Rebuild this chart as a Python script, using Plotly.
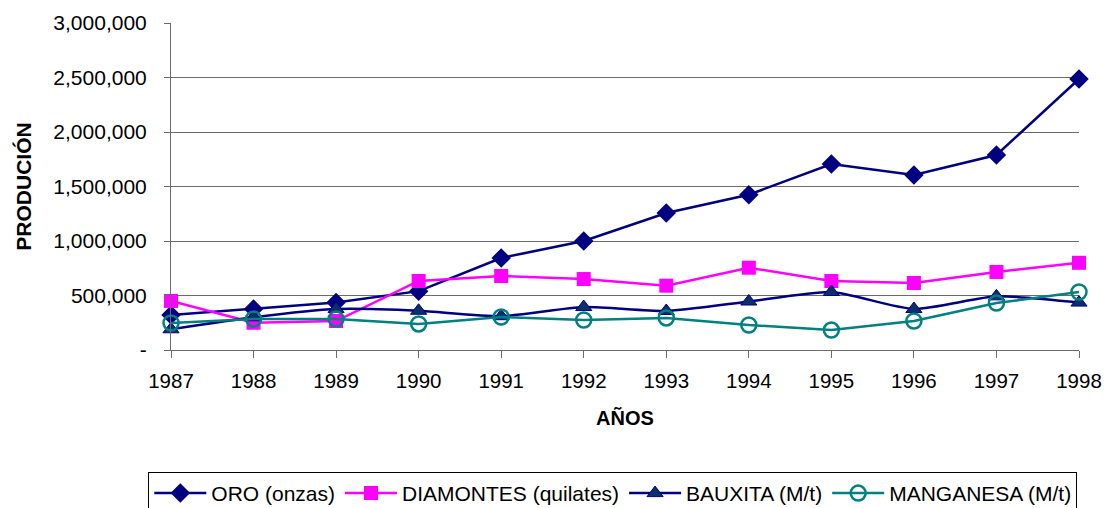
import plotly.graph_objects as go

years = [1987, 1988, 1989, 1990, 1991, 1992, 1993, 1994, 1995, 1996, 1997, 1998]
oro = [321000, 376000, 435000, 540000, 844000, 1000000, 1257000, 1425000, 1706000, 1605000, 1789000, 2486000]
diamontes = [450000, 250000, 266000, 633000, 679000, 651000, 590000, 755000, 633000, 615000, 716000, 800000]
bauxita = [190000, 300000, 376000, 360000, 310000, 394000, 358000, 445000, 532000, 376000, 492000, 435000]
manganesa = [248000, 284000, 284000, 239000, 303000, 275000, 294000, 229000, 183000, 266000, 431000, 532000]

ytick_vals = [0, 500000, 1000000, 1500000, 2000000, 2500000, 3000000]
ytick_text = ["-", "500,000", "1,000,000", "1,500,000", "2,000,000", "2,500,000", "3,000,000"]
grid_vals = [500000, 1000000, 1500000, 2000000, 2500000]

FONT = "Liberation Sans, Arial, sans-serif"
NAVY = "#000080"

fig = go.Figure()
fig.add_trace(go.Scatter(
    x=years, y=oro, name="ORO (onzas)", mode="lines+markers",
    line=dict(color=NAVY, width=2.5),
    marker=dict(symbol="diamond", size=15, color=NAVY),
    cliponaxis=False))
fig.add_trace(go.Scatter(
    x=years, y=diamontes, name="DIAMONTES (quilates)", mode="lines+markers",
    line=dict(color="#FF00FF", width=2.5),
    marker=dict(symbol="square", size=14, color="#FF00FF"),
    cliponaxis=False))
fig.add_trace(go.Scatter(
    x=years, y=bauxita, name="BAUXITA (M/t)", mode="lines+markers",
    line=dict(color=NAVY, width=2.5, shape="spline", smoothing=0.6),
    marker=dict(symbol="triangle-up", size=14, color="#0B2F6B", line=dict(color=NAVY, width=1)),
    cliponaxis=False))
fig.add_trace(go.Scatter(
    x=years, y=manganesa, name="MANGANESA (M/t)", mode="lines+markers",
    line=dict(color="#008080", width=2.5),
    marker=dict(symbol="circle-open", size=15, color="#008080", line=dict(width=2.5)),
    cliponaxis=False))
# grid-only overlay axis
fig.add_trace(go.Scatter(x=[None], y=[None], yaxis="y2", showlegend=False, hoverinfo="skip"))

fig.update_layout(
    width=1107, height=508,
    margin=dict(l=171, r=28, t=23, b=158, autoexpand=False),
    paper_bgcolor="white", plot_bgcolor="white",
    font=dict(family=FONT, size=20, color="black"),
    xaxis=dict(
        range=[1987, 1998], tickmode="array", tickvals=years, ticktext=[str(y) for y in years],
        showgrid=False, zeroline=False, showline=True, linecolor="#6b6b6b", linewidth=1,
        ticks="outside", ticklen=7, tickcolor="#6b6b6b", ticklabelstandoff=5,
        tickfont=dict(size=20.5), automargin=False,
        title=dict(text="<b>AÑOS</b>", font=dict(size=20), standoff=20),
    ),
    yaxis=dict(
        range=[0, 3000000], tickmode="array", tickvals=ytick_vals, ticktext=ytick_text,
        showgrid=False, zeroline=False, showline=True, linecolor="#6b6b6b", linewidth=1,
        ticks="outside", ticklen=6, tickcolor="#6b6b6b", ticklabelstandoff=13,
        tickfont=dict(size=21), automargin=False,
        title=dict(text="<b>PRODUCIÓN</b>", font=dict(size=21), standoff=16),
    ),
    yaxis2=dict(
        overlaying="y", range=[0, 3000000], tickmode="array", tickvals=grid_vals,
        showgrid=True, gridcolor="#6b6b6b", gridwidth=1, showticklabels=False,
        zeroline=False, showline=False, ticks="", automargin=False,
    ),
    legend=dict(
        orientation="h", x=-0.025, xanchor="left", y=-0.373, yanchor="top",
        bordercolor="black", borderwidth=1, bgcolor="white",
        font=dict(size=21), itemwidth=52, tracegroupgap=0,
    ),
    showlegend=True,
)

fig.write_html("out.html", config={"displayModeBar": False},
               post_script="document.body.style.margin='0';document.body.style.overflow='hidden';")
